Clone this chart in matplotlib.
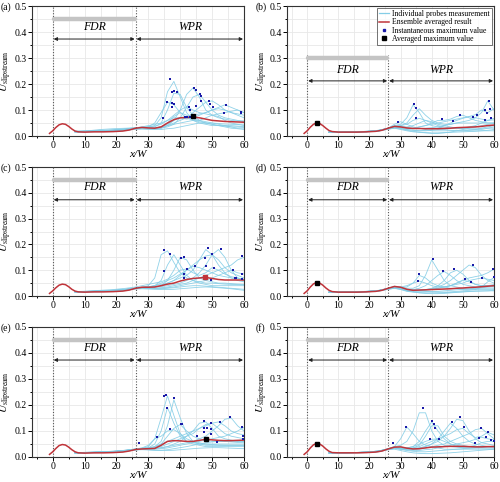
import numpy as np
import matplotlib
matplotlib.use("Agg")
import matplotlib.pyplot as plt
from matplotlib.lines import Line2D

plt.rcParams['font.family'] = ['Liberation Serif', 'DejaVu Serif']
plt.rcParams['mathtext.fontset'] = 'stix'

# x grid of the ensemble averaged curve
MX = [-1, 0, 1, 2, 3, 4, 5, 6, 7, 8, 10, 13, 16, 19, 22, 24, 26, 28, 30, 32,
      34, 36, 38, 40, 42, 44, 46, 48, 50, 52, 54, 56, 58, 60]
# x grid of the individual probe curves
PX = [7, 11, 15, 19, 23, 26, 28, 30, 32, 34, 36, 38, 40, 42, 44, 46, 48, 50,
      52, 54, 56, 58, 60]

mean_a = [.010, .020, .033, .043, .047, .045, .037, .027, .019, .016, .015, .016, .016, .017, .019, .023, .030,
          .033, .031, .030, .035, .050, .063, .070, .071, .073, .070, .065, .060, .058, .056, .055, .054, .053]
mean_b = [.010, .020, .034, .045, .050, .048, .040, .030, .021, .017, .015, .015, .015, .016, .018, .022, .030,
          .037, .035, .031, .029, .029, .028, .028, .028, .029, .030, .032, .033, .034, .035, .037, .040, .042]
mean_c = [.010, .020, .032, .042, .046, .044, .036, .026, .019, .016, .015, .016, .016, .017, .019, .023, .030,
          .034, .034, .035, .040, .046, .050, .058, .064, .068, .070, .072, .068, .064, .062, .062, .062, .062]
mean_d = [.010, .020, .035, .047, .052, .050, .042, .031, .022, .017, .015, .015, .015, .016, .018, .022, .030,
          .037, .034, .026, .022, .023, .024, .025, .026, .027, .028, .030, .031, .033, .034, .036, .038, .040]
mean_e = [.010, .020, .033, .044, .048, .046, .038, .028, .020, .016, .015, .016, .016, .017, .019, .023, .029,
          .031, .032, .033, .045, .060, .063, .062, .060, .060, .064, .068, .066, .064, .063, .063, .064, .065]
mean_f = [.010, .020, .035, .047, .052, .050, .042, .031, .022, .017, .016, .016, .016, .017, .019, .023, .031,
          .038, .039, .034, .031, .032, .035, .038, .039, .040, .041, .041, .041, .040, .039, .039, .040, .040]

probes_a = [
    [.018, .020, .022, .024, .028, .032, .034, .035, .040, .070, .170, .210, .150, .090, .060, .050, .045, .040, .040, .038, .035, .035, .033],
    [.018, .019, .020, .022, .026, .030, .030, .030, .035, .050, .100, .165, .160, .110, .080, .060, .050, .045, .040, .040, .040, .038, .036],
    [.017, .018, .020, .023, .027, .030, .032, .035, .050, .090, .130, .120, .090, .070, .060, .055, .050, .050, .048, .046, .045, .044, .043],
    [.016, .017, .019, .021, .025, .030, .030, .028, .027, .030, .040, .060, .100, .160, .185, .150, .100, .080, .070, .065, .060, .058, .055],
    [.016, .017, .018, .020, .024, .028, .028, .027, .028, .030, .035, .045, .070, .110, .150, .160, .130, .100, .080, .070, .065, .060, .058],
    [.017, .018, .020, .022, .026, .030, .031, .030, .030, .032, .040, .050, .060, .070, .090, .110, .130, .135, .120, .100, .090, .085, .080],
    [.016, .017, .019, .021, .025, .029, .030, .030, .030, .035, .045, .060, .070, .075, .080, .085, .090, .100, .110, .120, .110, .100, .090],
    [.017, .018, .020, .022, .026, .030, .033, .035, .038, .045, .060, .080, .100, .113, .100, .090, .085, .080, .085, .090, .095, .100, .090],
    [.016, .017, .018, .020, .024, .028, .030, .030, .032, .035, .040, .045, .050, .055, .060, .060, .055, .050, .045, .040, .035, .030, .030],
    [.015, .016, .017, .019, .022, .026, .027, .026, .025, .025, .028, .030, .035, .040, .045, .050, .050, .045, .040, .035, .030, .028, .025],
    [.018, .020, .025, .028, .030, .032, .035, .040, .045, .050, .060, .070, .070, .065, .070, .080, .090, .100, .105, .100, .090, .080, .070],
    [.016, .017, .018, .020, .024, .027, .028, .028, .030, .035, .050, .075, .090, .080, .065, .060, .070, .080, .075, .060, .050, .045, .040],
]
probes_b = [
    [.015, .015, .016, .018, .022, .030, .040, .045, .070, .120, .090, .050, .040, .035, .030, .030, .030, .030, .030, .030, .030, .030, .030],
    [.015, .015, .016, .018, .022, .030, .038, .040, .050, .080, .105, .080, .060, .050, .045, .045, .050, .050, .050, .050, .050, .050, .050],
    [.015, .015, .016, .017, .020, .030, .045, .055, .045, .035, .030, .025, .020, .020, .020, .020, .020, .020, .020, .020, .020, .020, .020],
    [.015, .015, .016, .017, .021, .030, .035, .035, .030, .030, .035, .040, .050, .060, .060, .065, .075, .080, .070, .060, .055, .050, .050],
    [.014, .014, .015, .016, .020, .028, .035, .032, .030, .028, .028, .030, .032, .035, .040, .045, .050, .055, .060, .070, .090, .135, .100],
    [.015, .015, .015, .017, .020, .030, .036, .033, .030, .030, .035, .040, .045, .050, .055, .060, .065, .070, .075, .082, .100, .090, .105],
    [.014, .014, .015, .016, .020, .028, .032, .030, .025, .022, .020, .022, .025, .030, .040, .050, .060, .068, .074, .070, .065, .060, .068],
    [.015, .015, .016, .017, .021, .030, .038, .040, .045, .060, .068, .060, .050, .040, .035, .030, .028, .030, .035, .040, .050, .060, .062],
    [.014, .014, .015, .016, .019, .026, .030, .028, .022, .018, .015, .013, .012, .012, .013, .014, .015, .016, .017, .018, .020, .022, .025],
    [.015, .015, .016, .017, .020, .028, .034, .030, .025, .022, .020, .020, .022, .025, .025, .022, .020, .020, .022, .025, .030, .035, .040],
    [.014, .014, .015, .016, .019, .027, .030, .025, .020, .016, .014, .012, .010, .010, .012, .015, .020, .025, .030, .035, .040, .045, .048],
    [.015, .015, .016, .018, .022, .030, .036, .038, .035, .040, .050, .060, .055, .045, .040, .035, .030, .028, .026, .025, .025, .030, .035],
]
probes_c = [
    [.016, .017, .019, .021, .026, .030, .033, .040, .070, .160, .175, .130, .090, .070, .060, .055, .050, .050, .048, .046, .045, .044, .043],
    [.016, .017, .018, .020, .025, .030, .032, .035, .040, .060, .120, .160, .120, .080, .060, .050, .045, .040, .040, .040, .040, .040, .040],
    [.016, .017, .019, .021, .025, .030, .032, .033, .035, .040, .060, .100, .150, .140, .100, .070, .060, .055, .050, .050, .048, .046, .045],
    [.017, .018, .020, .022, .026, .032, .034, .034, .035, .040, .050, .060, .070, .080, .100, .140, .180, .160, .120, .090, .070, .060, .055],
    [.016, .017, .019, .021, .025, .030, .032, .033, .034, .036, .040, .045, .050, .060, .070, .090, .120, .160, .180, .150, .100, .070, .060],
    [.017, .018, .020, .022, .026, .031, .034, .036, .040, .045, .050, .060, .080, .100, .120, .140, .155, .160, .140, .110, .090, .080, .070],
    [.016, .017, .018, .020, .024, .029, .030, .030, .030, .032, .035, .040, .045, .050, .060, .070, .080, .090, .100, .110, .120, .140, .150],
    [.017, .018, .020, .022, .026, .031, .033, .035, .040, .050, .060, .070, .085, .100, .115, .110, .100, .090, .080, .075, .070, .068, .065],
    [.016, .017, .018, .020, .024, .029, .030, .030, .030, .030, .032, .035, .040, .045, .050, .055, .060, .070, .080, .090, .100, .090, .085],
    [.015, .016, .017, .019, .023, .028, .030, .029, .028, .028, .030, .032, .035, .038, .040, .040, .038, .036, .034, .032, .030, .028, .026],
    [.015, .016, .017, .019, .022, .027, .028, .027, .026, .025, .025, .026, .028, .030, .032, .034, .035, .034, .032, .030, .028, .025, .022],
    [.017, .019, .022, .025, .030, .035, .040, .045, .050, .055, .065, .080, .100, .105, .090, .080, .090, .110, .100, .085, .075, .070, .065],
]
probes_d = [
    [.015, .015, .016, .018, .022, .030, .038, .035, .030, .030, .040, .080, .140, .100, .060, .040, .035, .030, .030, .030, .030, .030, .030],
    [.015, .015, .016, .018, .022, .030, .036, .033, .035, .050, .080, .070, .050, .040, .035, .030, .028, .026, .025, .025, .025, .025, .025],
    [.015, .015, .016, .018, .021, .029, .035, .030, .025, .025, .030, .040, .060, .080, .095, .080, .060, .045, .040, .035, .035, .035, .035],
    [.015, .015, .016, .017, .021, .029, .034, .030, .024, .022, .022, .025, .030, .040, .060, .090, .100, .085, .060, .045, .040, .040, .040],
    [.015, .015, .016, .017, .021, .029, .034, .030, .024, .022, .022, .024, .028, .035, .045, .060, .080, .100, .120, .110, .080, .060, .050],
    [.015, .015, .016, .017, .021, .029, .035, .032, .026, .024, .024, .025, .027, .030, .035, .040, .050, .060, .070, .075, .080, .090, .104],
    [.015, .015, .016, .017, .020, .028, .033, .028, .022, .020, .020, .022, .025, .030, .035, .040, .045, .050, .060, .065, .070, .065, .060],
    [.015, .015, .016, .017, .021, .029, .036, .035, .040, .050, .058, .050, .040, .035, .035, .040, .050, .062, .055, .045, .040, .040, .045],
    [.014, .014, .015, .016, .019, .026, .030, .025, .018, .015, .013, .012, .012, .012, .013, .014, .015, .016, .017, .018, .019, .020, .022],
    [.014, .014, .015, .016, .020, .028, .032, .028, .020, .018, .016, .016, .017, .018, .020, .022, .024, .026, .028, .030, .032, .035, .038],
    [.015, .015, .016, .017, .021, .029, .034, .030, .025, .022, .020, .018, .016, .015, .015, .016, .018, .020, .022, .025, .035, .055, .072],
    [.014, .014, .015, .016, .019, .026, .030, .026, .020, .016, .012, .010, .009, .009, .010, .012, .014, .016, .018, .020, .020, .020, .020],
]
probes_e = [
    [.016, .017, .019, .021, .026, .030, .033, .040, .070, .150, .235, .160, .090, .060, .050, .045, .040, .040, .040, .040, .040, .040, .040],
    [.016, .017, .018, .020, .025, .029, .031, .033, .040, .060, .120, .220, .150, .090, .060, .050, .045, .045, .045, .045, .045, .045, .045],
    [.017, .018, .020, .022, .026, .030, .032, .035, .050, .100, .190, .130, .080, .060, .055, .050, .050, .050, .050, .050, .050, .050, .050],
    [.016, .017, .019, .021, .025, .030, .032, .033, .036, .050, .080, .110, .125, .100, .080, .070, .065, .060, .060, .060, .060, .060, .060],
    [.016, .017, .018, .020, .024, .028, .030, .031, .033, .036, .040, .050, .060, .080, .100, .130, .135, .110, .080, .070, .065, .060, .060],
    [.016, .017, .019, .021, .025, .030, .032, .033, .035, .040, .050, .060, .070, .080, .090, .110, .125, .130, .110, .090, .080, .075, .070],
    [.016, .017, .018, .020, .024, .028, .030, .030, .032, .035, .040, .045, .050, .055, .060, .070, .080, .100, .120, .145, .150, .120, .100],
    [.017, .018, .020, .022, .026, .031, .034, .036, .040, .050, .060, .070, .080, .090, .100, .110, .120, .130, .135, .120, .100, .090, .085],
    [.016, .017, .018, .020, .024, .028, .030, .030, .030, .032, .035, .040, .045, .050, .055, .060, .065, .070, .075, .080, .090, .100, .114],
    [.017, .018, .020, .022, .026, .031, .035, .045, .070, .080, .100, .105, .090, .070, .060, .055, .050, .048, .046, .045, .045, .045, .045],
    [.015, .016, .017, .019, .023, .027, .030, .028, .026, .025, .025, .026, .028, .030, .032, .034, .035, .036, .036, .035, .034, .033, .032],
    [.015, .016, .017, .019, .023, .027, .028, .027, .026, .026, .028, .032, .036, .040, .045, .050, .055, .058, .060, .060, .058, .056, .055],
]
probes_f = [
    [.016, .016, .017, .019, .023, .032, .040, .045, .060, .100, .170, .170, .100, .060, .045, .040, .038, .036, .035, .035, .035, .035, .035],
    [.016, .016, .017, .019, .023, .032, .040, .070, .115, .090, .060, .045, .040, .035, .030, .030, .030, .030, .030, .030, .030, .030, .030],
    [.016, .016, .017, .019, .023, .031, .038, .035, .035, .040, .060, .100, .135, .100, .070, .050, .040, .035, .035, .035, .035, .035, .035],
    [.016, .016, .017, .018, .022, .030, .036, .033, .032, .035, .045, .080, .120, .120, .080, .060, .050, .045, .040, .040, .040, .040, .040],
    [.016, .016, .017, .018, .022, .030, .036, .032, .030, .030, .035, .040, .050, .070, .100, .130, .110, .080, .060, .050, .045, .040, .040],
    [.016, .016, .017, .019, .023, .031, .038, .035, .032, .032, .035, .040, .050, .060, .080, .110, .145, .140, .100, .070, .055, .050, .045],
    [.016, .016, .017, .018, .022, .030, .035, .030, .028, .028, .030, .035, .040, .045, .050, .060, .070, .080, .090, .105, .110, .090, .070],
    [.016, .016, .017, .019, .023, .031, .037, .034, .032, .035, .040, .050, .060, .070, .080, .090, .105, .110, .090, .075, .080, .095, .085],
    [.016, .016, .017, .018, .022, .030, .036, .035, .035, .040, .050, .060, .068, .070, .060, .050, .045, .040, .040, .045, .055, .060, .060],
    [.015, .015, .016, .017, .021, .029, .034, .030, .025, .022, .020, .020, .022, .024, .026, .028, .030, .032, .034, .036, .038, .040, .042],
    [.015, .015, .016, .017, .020, .028, .030, .025, .020, .016, .014, .013, .013, .014, .015, .016, .018, .020, .022, .024, .026, .028, .030],
    [.015, .015, .016, .017, .021, .029, .033, .030, .027, .025, .025, .028, .030, .035, .040, .045, .050, .055, .060, .068, .076, .070, .066],
]

# instantaneous maximum values (blue dots)
dots_a_x = [36.8, 37.5, 38.1, 38.9, 35.7, 37.5, 38.1, 37.5, 34.7, 44.2, 45.1, 46.1, 46.6, 42.7, 43.1, 44.8,
            46.4, 49.1, 49.4, 50.2, 54.3, 53.6, 59.0, 59.0, 41.5, 42.0, 43.1]
dots_a_y = [.218, .168, .173, .168, .132, .126, .122, .113, .070, .185, .178, .162, .152, .113, .100, .117,
            .136, .136, .123, .113, .121, .087, .093, .088, .072, .072, .074]
dots_b_x = [34.3, 34.9, 34.9, 29.1, 43.2, 46.9, 49.1, 53.2, 54.4, 58.5, 57.2, 57.8, 58.8, 57.2, 59.0]
dots_b_y = [.123, .106, .068, .055, .064, .059, .082, .074, .082, .136, .100, .090, .104, .062, .068]
dots_c_x = [34.8, 36.7, 34.8, 40.2, 41.2, 42.0, 41.2, 41.2, 44.7, 47.9, 48.6, 50.0, 52.8, 48.1, 50.6, 49.5,
            56.5, 57.5, 57.1, 59.3, 59.5, 59.5]
dots_c_y = [.178, .161, .097, .149, .153, .105, .084, .071, .116, .149, .186, .164, .182, .116, .110, .062,
            .100, .071, .068, .155, .087, .064]
dots_d_x = [35.8, 35.5, 40.5, 43.6, 47.0, 53.1, 50.8, 52.7, 56.0, 59.8, 60.0]
dots_d_y = [.084, .059, .143, .097, .106, .121, .067, .055, .070, .104, .072]
dots_e_x = [34.8, 35.6, 35.9, 38.0, 36.8, 32.7, 40.2, 40.5, 27.1, 45.3, 47.5, 47.5, 48.4, 47.4, 49.5, 49.5,
            49.5, 52.6, 55.5, 51.5, 59.5, 59.7, 59.7]
dots_e_y = [.233, .237, .190, .226, .109, .077, .126, .128, .054, .079, .137, .112, .112, .096, .131, .109,
            .090, .135, .154, .058, .114, .079, .070]
dots_f_x = [37.1, 31.7, 27.6, 40.0, 40.7, 40.9, 39.6, 42.2, 46.6, 49.2, 50.4, 55.7, 55.2, 57.3, 58.2, 59.0,
            59.9, 54.0]
dots_f_y = [.188, .115, .054, .138, .126, .112, .071, .071, .135, .154, .114, .113, .074, .077, .095, .067,
            .060, .055]

# averaged maximum value (x, y)
avg_max = {'a': (44.0, .077), 'b': (3.0, .050), 'c': (47.9, .074),
           'd': (3.0, .052), 'e': (48.0, .069), 'f': (3.0, .050)}

panels = {
    'a': (mean_a, probes_a, dots_a_x, dots_a_y),
    'b': (mean_b, probes_b, dots_b_x, dots_b_y),
    'c': (mean_c, probes_c, dots_c_x, dots_c_y),
    'd': (mean_d, probes_d, dots_d_x, dots_d_y),
    'e': (mean_e, probes_e, dots_e_x, dots_e_y),
    'f': (mean_f, probes_f, dots_f_x, dots_f_y),
}

PROBE_C = '#84cde6'
MEAN_C = '#c0343a'
DOT_C = '#1a1aa8'
W, H = 500, 482

fig = plt.figure(figsize=(5.0, 4.82), dpi=100)
# axes boxes in pixels: left, right, top, bottom
cols = [(32, 244), (287, 494)]
rows = [(6, 136), (167, 296), (327, 457)]

for i, key in enumerate('abcdef'):
    l, r = cols[i % 2]
    t, b = rows[i // 2]
    ax = fig.add_axes([l / W, 1 - b / H, (r - l) / W, (b - t) / H])
    mean, probes, dx, dy = panels[key]

    for p in probes:
        ax.plot(PX, p, color=PROBE_C, lw=0.6, alpha=0.9, zorder=2)
    ax.plot(MX, mean, color=MEAN_C, lw=1.1, zorder=4)
    ax.plot(dx, dy, 's', color=DOT_C, ms=1.8, mew=0, zorder=5)
    mx, my = avg_max[key]
    ax.plot(mx, my, 's', color=MEAN_C if key == 'c' else 'black', ms=3.2, zorder=6)

    ax.set_xlim(-6.5, 60)
    ax.set_ylim(0, 0.5)
    ax.set_xticks(np.arange(0, 61, 10))
    ax.set_xticks(np.arange(-5, 61, 5), minor=True)
    ax.set_yticks(np.arange(0, 0.51, 0.1))
    ax.set_yticks(np.arange(0, 0.51, 0.05), minor=True)
    ax.set_yticklabels(['%.1f' % v for v in np.arange(0, 0.51, 0.1)])
    ax.grid(True, which='both', color='#e8e8e8', lw=0.6, zorder=0)
    ax.set_axisbelow(True)
    ax.tick_params(which='both', direction='out', labelsize=7, pad=1, width=0.7)
    ax.tick_params(which='major', length=2.6)
    ax.tick_params(which='minor', length=1.6)
    for s in ax.spines.values():
        s.set_linewidth(0.8)
        s.set_color('#333333')

    ax.set_xlabel('x/W', fontsize=8, style='italic', labelpad=0)
    ax.set_ylabel(r'$U_{\mathrm{slipstream}}$', fontsize=8)
    ax.yaxis.set_label_coords(-(32 - 14.5) / (r - l), 0.5)

    if key == 'b':
        bar_y, txt_y, arr_y, vtop = 0.30, 0.232, 0.212, 0.31
    else:
        bar_y, txt_y, arr_y, vtop = 0.45, 0.398, 0.373, 0.5
    ax.plot([0, 0], [0, vtop], ls=(0, (1, 1.5)), color='#555555', lw=0.8, zorder=3)
    ax.plot([26, 26], [0, vtop], ls=(0, (1, 1.5)), color='#555555', lw=0.8, zorder=3)
    ax.plot([0.3, 25.7], [bar_y, bar_y], color='#c4c4c4', lw=3.2,
            solid_capstyle='round', zorder=3)
    for x0, x1 in [(0, 26), (26, 60)]:
        ax.annotate('', xy=(x0 + 0.3, arr_y), xytext=(x1 - 0.3, arr_y),
                    arrowprops=dict(arrowstyle='<|-|>', color='#222222', lw=0.7,
                                    mutation_scale=5, shrinkA=0, shrinkB=0))
    ax.text(13, txt_y, 'FDR', style='italic', fontsize=8.5, ha='center', va='bottom')
    ax.text(43, txt_y, 'WPR', style='italic', fontsize=8.5, ha='center', va='bottom')

    fig.text((l - 31) / W, 1 - (t + 1) / H, '(%s)' % key, fontsize=7, va='center')

    if key == 'b':
        handles = [
            Line2D([], [], color=PROBE_C, lw=0.9),
            Line2D([], [], color=MEAN_C, lw=1.1),
            Line2D([], [], ls='', marker='s', color=DOT_C, ms=2),
            Line2D([], [], ls='', marker='s', color='black', ms=2.5),
        ]
        labels = ['Individual probes measurement', 'Ensemble averaged result',
                  'Instantaneous maximum value', 'Averaged maximum value']
        leg = ax.legend(handles, labels, loc='upper right', fontsize=5.6, frameon=True,
                        fancybox=False, edgecolor='#333333', handlelength=1.2,
                        handletextpad=0.5, borderpad=0.3, labelspacing=0.05,
                        borderaxespad=0.2)
        leg.get_frame().set_linewidth(0.6)

fig.savefig('out.png', dpi=100)
